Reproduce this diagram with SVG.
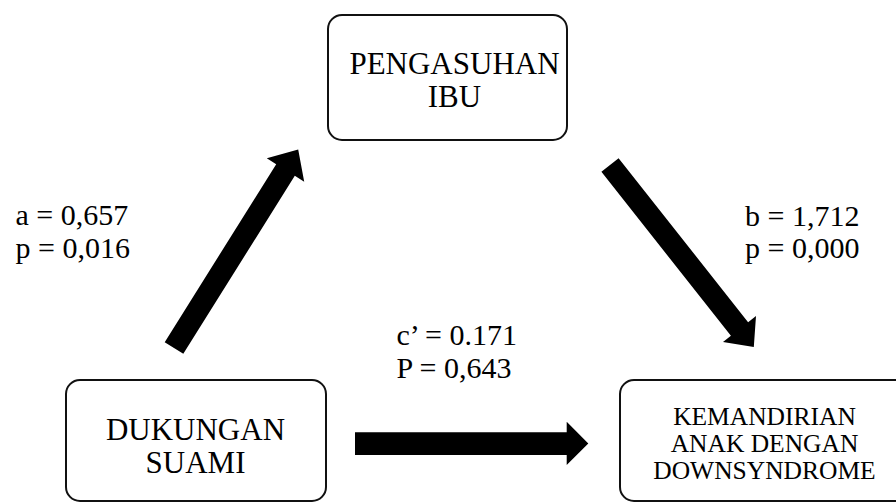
<svg xmlns="http://www.w3.org/2000/svg" width="896" height="503" viewBox="0 0 896 503">
  <style>
    .box { fill: #ffffff; stroke: #111111; stroke-width: 2; }
    .big { font-family: "Liberation Serif", "Times New Roman", serif; font-size: 31px; fill: #000; text-anchor: middle; }
    .small { font-family: "Liberation Serif", "Times New Roman", serif; font-size: 25.5px; fill: #000; text-anchor: middle; }
    .lbl { font-family: "Liberation Serif", "Times New Roman", serif; font-size: 30px; fill: #000; }
    .arrow { fill: #000000; }
  </style>
  <rect width="896" height="503" fill="#ffffff"/>

  <g id="connectors">
    <polygon id="arrow-a" class="arrow" points="164.7,342.2 276.2,164.2 266.8,158.3 298.2,149.6 304.2,181.7 294.8,175.8 183.3,353.8"/>
    <polygon id="arrow-b" class="arrow" points="618.6,158.2 748.1,322.2 756,316 753.8,347 723,342 730.9,335.8 601.4,171.8"/>
    <polygon id="arrow-c" class="arrow" points="355,432.3 566.7,432.3 566.7,421.7 588.3,443.5 566.7,465 566.7,455 355,455"/>
  </g>

  <g id="node-pengasuhan">
    <rect class="box" x="328" y="15" width="239" height="125" rx="14" ry="14"/>
    <text class="big" x="454.5" y="73.5">PENGASUHAN</text>
    <text class="big" x="454.5" y="107">IBU</text>
  </g>

  <g id="node-dukungan">
    <rect class="box" x="66" y="380" width="260" height="121" rx="14" ry="14"/>
    <text class="big" x="195.5" y="440">DUKUNGAN</text>
    <text class="big" x="195.5" y="473">SUAMI</text>
  </g>

  <g id="node-kemandirian">
    <rect class="box" x="620" y="380" width="290" height="121" rx="14" ry="14"/>
    <text class="small" x="764.5" y="424.5">KEMANDIRIAN</text>
    <text class="small" x="764.5" y="452">ANAK DENGAN</text>
    <text class="small" x="764.5" y="479">DOWNSYNDROME</text>
  </g>

  <g id="labels">
    <text class="lbl" x="15.5" y="225">a = 0,657</text>
    <text class="lbl" x="15.5" y="258">p = 0,016</text>
    <text class="lbl" x="745" y="226">b = 1,712</text>
    <text class="lbl" x="745" y="258">p = 0,000</text>
    <text class="lbl" x="396.5" y="345">c’ = 0.171</text>
    <text class="lbl" x="396.5" y="378">P = 0,643</text>
  </g>
</svg>
